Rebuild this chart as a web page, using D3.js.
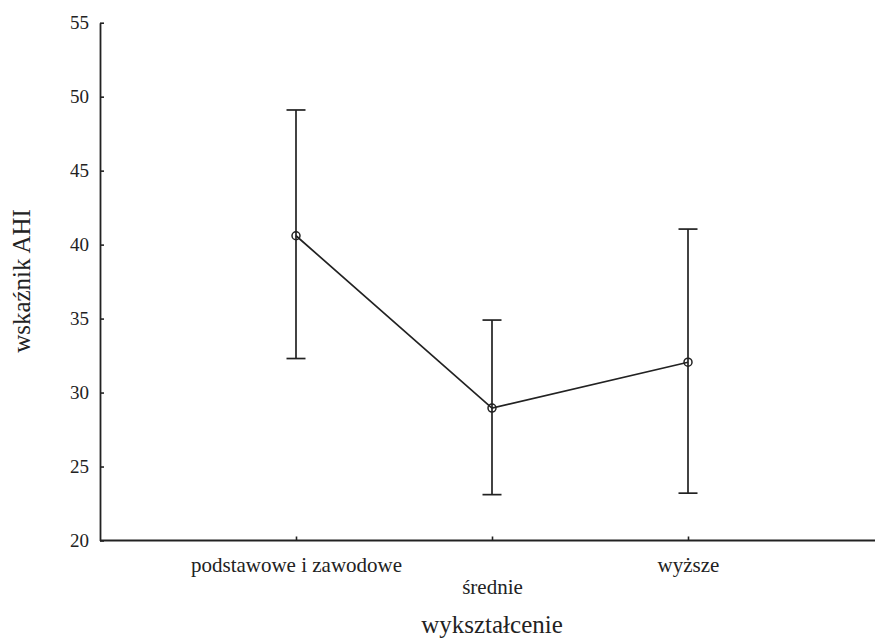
<!DOCTYPE html>
<html>
<head>
<meta charset="utf-8">
<script src="https://cdn.jsdelivr.net/npm/d3@7"></script>
<style>
  body { margin: 0; background: #fff; }
  svg { display: block; }
</style>
</head>
<body>
<div id="chart"></div>
<script>
// categories and values
const categories = ["podstawowe i zawodowe", "średnie", "wyższe"];
const means = [40.6, 28.95, 32.05];
const lower = [32.3, 23.1, 23.2];
const upper = [49.1, 34.9, 41.05];
const yTicks = [20, 25, 30, 35, 40, 45, 50, 55];

const width = 875, height = 640;
const ink = "#222";
const serif = "'Liberation Serif', 'Times New Roman', serif";

const svg = d3.select("#chart")
    .append("svg")
    .attr("width", width)
    .attr("height", height)
    .attr("font-family", serif);

const x = d3.scalePoint()
    .domain(categories)
    .range([100, 884])
    .padding(1);

const y = d3.scaleLinear()
    .domain([20, 55])
    .range([540.5, 22.7]);

// y axis, ticks pointing inward
const yAxis = svg.append("g")
    .attr("transform", "translate(100,0)")
    .call(d3.axisLeft(y).tickValues(yTicks).tickSize(-4).tickSizeOuter(0).tickPadding(11))
    .attr("font-family", serif)
    .attr("font-size", 19);
yAxis.selectAll("text").attr("fill", ink);

// x axis
const xAxis = svg.append("g")
    .attr("transform", `translate(0,${y(20)})`)
    .call(d3.axisBottom(x).tickSize(-4).tickSizeOuter(0))
    .attr("font-family", serif)
    .attr("font-size", 21);
xAxis.selectAll("text")
    .attr("fill", ink)
    .attr("dy", 0)
    .attr("y", (d, i) => i % 2 ? 53 : 31); // middle label is staggered down

[yAxis, xAxis].forEach(g => {
    g.select(".domain").attr("stroke", ink).attr("stroke-width", 1.8);
    g.selectAll(".tick line").attr("stroke", ink).attr("stroke-width", 1.6);
});

// extend the x axis line to the right edge
xAxis.select(".domain").attr("d", `M100,0H${width}`);

// error bars
const bars = svg.append("g")
    .selectAll("g")
    .data(categories)
    .join("g")
    .attr("stroke", ink)
    .attr("stroke-width", 1.7);

bars.append("line")
    .attr("x1", d => x(d)).attr("x2", d => x(d))
    .attr("y1", (d, i) => y(lower[i])).attr("y2", (d, i) => y(upper[i]));
bars.append("line")
    .attr("x1", d => x(d) - 9.5).attr("x2", d => x(d) + 9.5)
    .attr("y1", (d, i) => y(upper[i])).attr("y2", (d, i) => y(upper[i]));
bars.append("line")
    .attr("x1", d => x(d) - 9.5).attr("x2", d => x(d) + 9.5)
    .attr("y1", (d, i) => y(lower[i])).attr("y2", (d, i) => y(lower[i]));

// line through the means
const line = d3.line()
    .x((d, i) => x(categories[i]))
    .y(d => y(d));

svg.append("path")
    .datum(means)
    .attr("d", line)
    .attr("fill", "none")
    .attr("stroke", ink)
    .attr("stroke-width", 1.7);

svg.append("g")
    .selectAll("circle")
    .data(means)
    .join("circle")
    .attr("cx", (d, i) => x(categories[i]))
    .attr("cy", d => y(d))
    .attr("r", 4)
    .attr("fill", "none")
    .attr("stroke", ink)
    .attr("stroke-width", 1.5);

// axis titles
svg.append("text")
    .attr("x", x("średnie"))
    .attr("y", 633)
    .attr("text-anchor", "middle")
    .attr("fill", ink)
    .attr("font-size", 25)
    .text("wykształcenie");

svg.append("text")
    .attr("transform", "translate(30,281) rotate(-90)")
    .attr("text-anchor", "middle")
    .attr("fill", ink)
    .attr("font-size", 25)
    .text("wskaźnik AHI");
</script>
</body>
</html>
